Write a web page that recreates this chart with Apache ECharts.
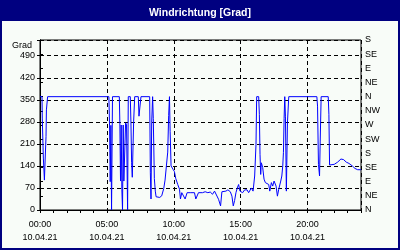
<!DOCTYPE html>
<html><head><meta charset="utf-8">
<script src="https://cdn.jsdelivr.net/npm/echarts@6/dist/echarts.min.js"></script>
<style>html,body{margin:0;padding:0;background:#000080}#c{width:400px;height:250px}</style>
</head><body><div id="c"></div>
<script>
const chartTitle = 'Windrichtung [Grad]';
const yName = 'Grad';
const dateLabel = '10.04.21';
const xTickValues = [0, 5, 10, 15, 20];
const xTickLabels = ['00:00', '05:00', '10:00', '15:00', '20:00'];
const yTickLabels = ['0', '70', '140', '210', '280', '350', '420', '490'];
const compassLabels = ['N', 'NE', 'E', 'SE', 'S', 'SW', 'W', 'NW', 'N', 'NE', 'E', 'SE', 'S'];

// time of day in hours
const hours = [
  0, 0.15, 0.17, 0.23, 0.25, 0.3, 0.33, 0.37, 0.42, 0.45, 0.48, 0.53, 0.57,
  5.15, 5.2, 5.25, 5.3, 5.35, 5.42,
  5.93, 5.97, 6.02, 6.07, 6.12, 6.17, 6.22, 6.27, 6.33, 6.4, 6.47, 6.55, 6.6,
  6.75, 6.8, 6.85, 6.9, 6.95, 7.0, 7.08, 7.35, 7.4, 7.5, 7.55,
  8.2, 8.25, 8.3, 8.35, 8.42, 8.47, 8.55, 8.62, 8.68, 8.8, 8.95, 9.1, 9.18,
  9.25, 9.35, 9.45, 9.55, 9.62, 9.68, 9.73, 9.8, 9.95, 10.05, 10.15, 10.3,
  10.43, 10.5, 10.6, 10.73, 10.85, 11.0, 11.1, 11.23, 11.35, 11.55, 11.65,
  11.85, 11.98, 12.15, 12.35, 12.55, 12.73, 12.9, 13.05, 13.15, 13.35, 13.5,
  13.6, 13.73, 13.9, 14.05, 14.23, 14.35, 14.45, 14.55, 14.65, 14.75, 14.85,
  14.95, 15.05, 15.15, 15.3, 15.48, 15.6, 15.8, 15.93, 16.05, 16.15, 16.2,
  16.35, 16.4, 16.45, 16.5, 16.55, 16.65, 16.75, 16.85, 16.98, 17.1, 17.18,
  17.3, 17.4, 17.5, 17.65, 17.75, 17.85, 18.0, 18.08, 18.15, 18.2, 18.25,
  18.3, 18.35, 18.42, 18.5, 18.6, 20.7, 20.75, 20.82, 20.9, 20.95, 21.02,
  21.55, 21.6, 21.65, 21.75, 22.0, 22.25, 22.5, 22.7, 22.9, 23.1, 23.35,
  23.55, 23.75, 24.0
];
// wind direction in degrees
const directions = [
  360, 360, 292, 292, 165, 165, 95, 143, 143, 233, 318, 318, 360,
  360, 267, 90, 269, 0, 360,
  360, 277, 92, 270, 66, 0, 270, 92, 90, 277, 270, 0, 360,
  360, 277, 150, 104, 108, 280, 360, 360, 298, 298, 360,
  360, 118, 35, 277, 360, 290, 100, 60, 42, 40, 40, 45, 50,
  68, 95, 140, 184, 300, 360, 250, 140, 129, 122, 100, 81,
  66, 35, 55, 60, 35, 55, 52, 55, 58, 55, 35,
  55, 57, 55, 58, 55, 57, 50, 60, 55, 34, 13,
  58, 62, 60, 64, 58, 44, 13, 30, 55, 70, 81,
  60, 64, 55, 64, 64, 55, 70, 60, 108, 209, 360,
  360, 304, 177, 113, 150, 135, 98, 87, 87, 81, 60,
  87, 76, 92, 76, 44, 66, 92, 108, 140, 182, 291,
  360, 298, 60, 277, 360, 360, 330, 145, 108, 219, 360,
  360, 304, 143, 143, 145, 152, 162, 160, 152, 148, 140,
  132, 128, 128
];

const font = 'Liberation Sans, Arial, sans-serif';
const chart = echarts.init(document.getElementById('c'), null, {renderer: 'canvas'});
chart.setOption({
  animation: false,
  backgroundColor: '#000080',
  graphic: [{
    type: 'rect', z: -100, silent: true,
    shape: {x: 2, y: 21, width: 396, height: 227},
    style: {fill: '#F8FCF8'}
  }],
  title: {
    text: chartTitle, left: 'center', top: 3,
    textStyle: {color: '#FFFFFF', fontSize: 10.5, fontWeight: 'bold', fontFamily: font}
  },
  grid: {
    left: 40, right: 39, top: 40, bottom: 40, show: true,
    borderColor: '#000', borderWidth: 1, backgroundColor: 'transparent'
  },
  xAxis: [{
    type: 'value', min: 0, max: 24, interval: 1, position: 'bottom',
    axisLine: {onZero: false, lineStyle: {color: '#000', width: 1}},
    axisTick: {show: true, length: 3, lineStyle: {color: '#000'}},
    axisLabel: {show: false},
    splitLine: {show: false}
  }, {
    type: 'value', min: 0, max: 24, interval: 5, position: 'bottom',
    axisLine: {show: false, onZero: false},
    axisTick: {show: false},
    axisLabel: {
      margin: 8, fontSize: 9, lineHeight: 13, color: '#000', fontFamily: font,
      formatter: v => { const i = xTickValues.indexOf(v); return i < 0 ? '' : xTickLabels[i] + '\n' + dateLabel; }
    },
    splitLine: {show: true, lineStyle: {color: '#000', type: [4, 3], width: 1}}
  }],
  yAxis: [{
    type: 'value', min: 0, max: 540, interval: 70, position: 'left',
    name: yName, nameLocation: 'end', nameGap: -6,
    nameTextStyle: {color: '#000', fontSize: 9, fontFamily: font, align: 'right', verticalAlign: 'middle', padding: [0, 8, 0, 0]},
    axisLine: {show: true, lineStyle: {color: '#000'}},
    axisTick: {show: true, length: 3, lineStyle: {color: '#000'}},
    axisLabel: {
      margin: 5, fontSize: 9, color: '#000', fontFamily: font,
      formatter: v => { const i = Math.round(v / 70); return (v % 70 === 0 && i < yTickLabels.length) ? yTickLabels[i] : ''; }
    },
    splitLine: {show: true, lineStyle: {color: '#000', type: [4, 3], width: 1}}
  }, {
    type: 'value', min: 0, max: 540, interval: 45, position: 'right',
    axisLine: {show: true, lineStyle: {color: '#000'}},
    axisTick: {show: true, length: 3, lineStyle: {color: '#000'}},
    axisLabel: {
      margin: 4, fontSize: 9, color: '#000', fontFamily: font,
      formatter: v => compassLabels[Math.round(v / 45)] || ''
    },
    splitLine: {show: false}
  }],
  series: [{
    type: 'line', xAxisIndex: 0, yAxisIndex: 0,
    data: hours.map((h, i) => [h, directions[i]]),
    showSymbol: false, symbol: 'none',
    lineStyle: {color: '#0000FF', width: 1},
    itemStyle: {color: '#0000FF'}
  }]
});
</script></body></html>
